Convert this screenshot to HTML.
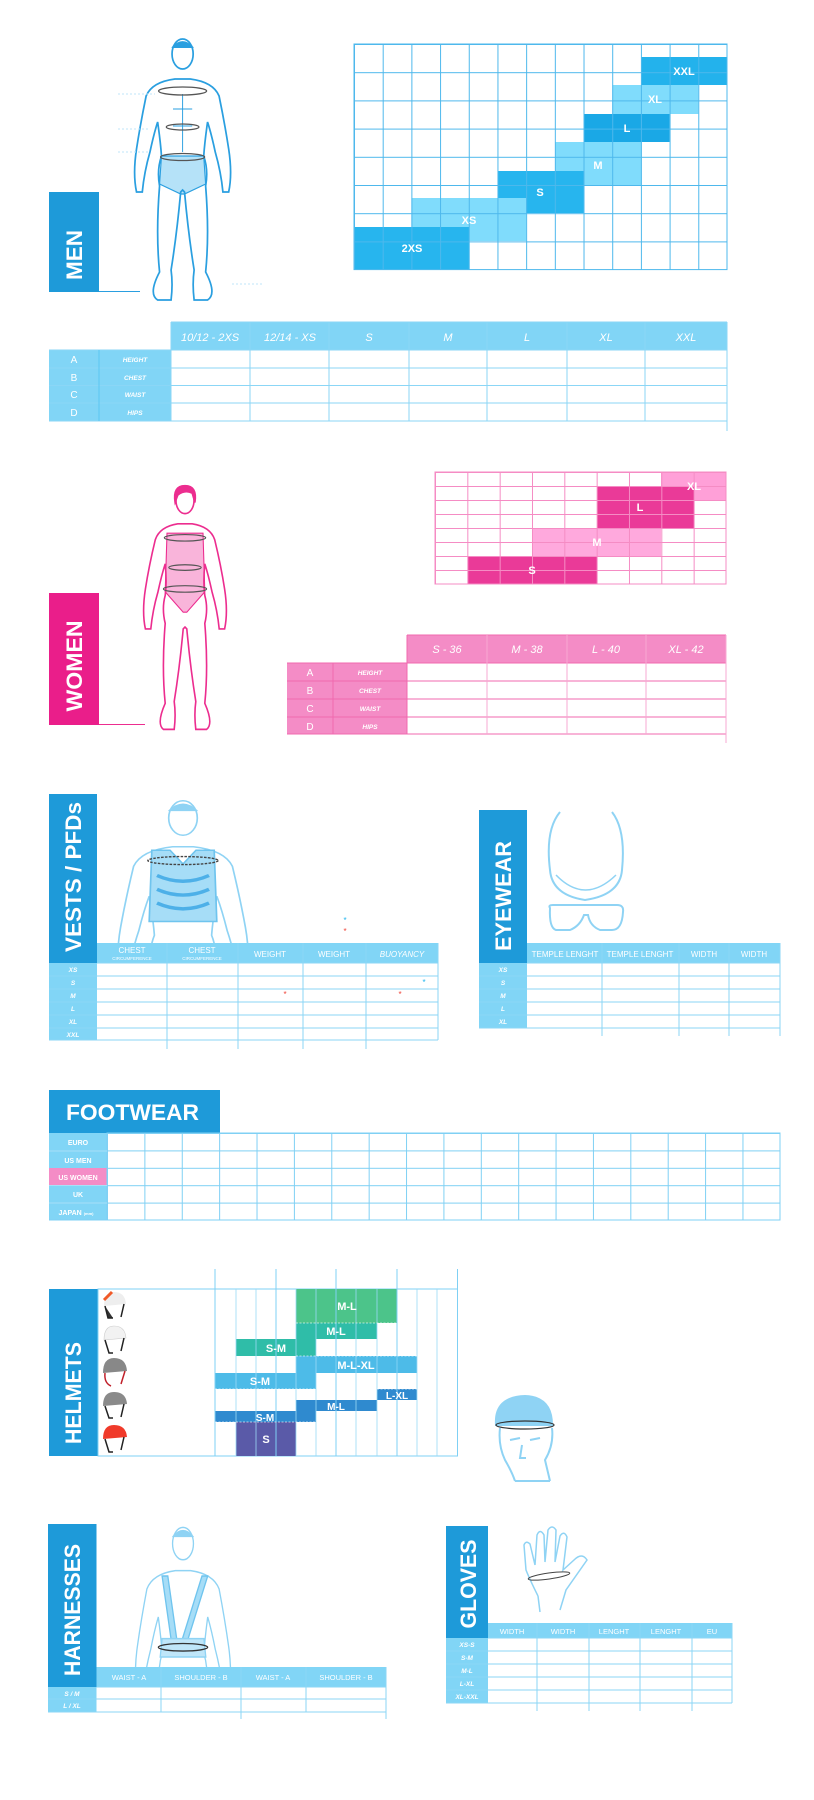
<!DOCTYPE html>
<html><head><meta charset="utf-8"><style>
html,body{margin:0;padding:0;background:#fff;}
svg{display:block;}
text{font-family:"Liberation Sans",sans-serif;}
.t{fill:#fff;font-weight:bold;}
.h{fill:#fff;font-style:italic;font-size:11px;}
.rl{fill:#fff;font-size:10px;}
.ri{fill:#fff;font-style:italic;font-weight:bold;font-size:6.5px;}
.sm{fill:#fff;font-size:8px;}
.bl{fill:#fff;font-weight:bold;font-size:11px;}
</style></head><body>
<svg width="814" height="1800" viewBox="0 0 814 1800" xmlns="http://www.w3.org/2000/svg">
<defs>
<pattern id="mg" x="354" y="44" width="28.69" height="28.2" patternUnits="userSpaceOnUse"><path d="M0 0H28.69M0 0V28.2" stroke="#4db8ec" stroke-width="2" fill="none"/></pattern>
<pattern id="wg" x="435" y="472" width="32.33" height="14" patternUnits="userSpaceOnUse"><path d="M0 0H32.33M0 0V14" stroke="#f58cc4" stroke-width="2" fill="none"/></pattern>
<pattern id="fg" x="107" y="1133" width="37.38" height="17.4" patternUnits="userSpaceOnUse"><path d="M0 0H37.38M0 0V17.4" stroke="#7fd0f4" stroke-width="2" fill="none"/></pattern>
<path id="body" d="M52 45 Q28 48 22 62 Q16 90 12 115 Q8 140 12 158 L18 158 Q20 138 26 118 Q30 100 34 88 Q37 108 38 122 Q33 136 36 152 Q32 200 36 238 Q24 260 34 266 L48 266 Q50 250 48 236 Q54 200 58 158 L60 156 L62 158 Q66 200 72 236 Q70 250 72 266 L86 266 Q96 260 84 238 Q88 200 84 152 Q87 136 82 122 Q83 108 86 88 Q90 100 94 118 Q100 138 102 158 L108 158 Q112 140 108 115 Q104 90 98 62 Q92 48 68 45 Z"/>
<clipPath id="cv"><rect x="0" y="780" width="400" height="163"/></clipPath>
<clipPath id="ch"><rect x="0" y="1515" width="400" height="152"/></clipPath>
</defs>

<!-- ===== MEN ===== -->
<rect x="49" y="192" width="50" height="100" fill="#1e9ad9"/>
<text class="t" font-size="22" transform="translate(82,255) rotate(-90)" text-anchor="middle" textLength="50" lengthAdjust="spacingAndGlyphs">MEN</text>
<line x1="99" y1="291.5" x2="140" y2="291.5" stroke="#2a9fe0" stroke-width="1"/>
<g transform="translate(125,34) scale(0.96,1)" stroke="#2a9fe0" stroke-width="1.8" fill="none">
<path d="M38 122 L82 122 L84 150 L62 160 L58 160 L36 150 Z" fill="#b5e2f8" stroke-width="1.2"/>
<use href="#body"/>
<ellipse cx="60" cy="20" rx="11" ry="15" fill="#fff"/>
<path d="M49 14 Q60 2 71 14" fill="#2a9fe0"/>
<path d="M60 60 V118 M50 75 H70 M50 92 H70" stroke-width="1"/>
<ellipse cx="60" cy="57" rx="25" ry="4" stroke="#555" stroke-width="1.3"/>
<ellipse cx="60" cy="93" rx="17" ry="3" stroke="#555" stroke-width="1.3"/>
<ellipse cx="60" cy="123" rx="23" ry="3.5" stroke="#555" stroke-width="1.3"/>
</g>
<g stroke="#bfe6f9" stroke-dasharray="2 2" stroke-width="1"><line x1="118" y1="94" x2="155" y2="94"/><line x1="118" y1="129" x2="150" y2="129"/><line x1="118" y1="152" x2="150" y2="152"/><line x1="232" y1="284" x2="262" y2="284"/></g>

<!-- men size grid -->
<rect x="641" y="57" width="86" height="28" fill="#23b2ec"/>
<rect x="612.3" y="85" width="86" height="29" fill="#80dcfc"/>
<rect x="583.6" y="114" width="86" height="28" fill="#1aa8e6"/>
<rect x="555" y="142" width="86" height="43" fill="#80dcfc"/>
<rect x="497.5" y="171" width="86" height="42" fill="#27b5ee"/>
<rect x="411.4" y="198" width="114.8" height="43" fill="#80dcfc"/>
<rect x="354" y="227" width="115" height="42.6" fill="#27b5ee"/>
<rect x="354" y="44" width="373" height="225.6" fill="url(#mg)" stroke="#4db8ec" stroke-width="1"/>
<text class="bl" x="684" y="75" text-anchor="middle">XXL</text>
<text class="bl" x="655" y="103" text-anchor="middle">XL</text>
<text class="bl" x="627" y="132" text-anchor="middle">L</text>
<text class="bl" x="598" y="169" text-anchor="middle">M</text>
<text class="bl" x="540" y="196" text-anchor="middle">S</text>
<text class="bl" x="469" y="224" text-anchor="middle">XS</text>
<text class="bl" x="412" y="252" text-anchor="middle">2XS</text>

<!-- men table -->
<rect x="171" y="322" width="556" height="28" fill="#81d5f6"/>
<rect x="49" y="350" width="122" height="71" fill="#81d5f6"/>
<g stroke="#8bd6f6" stroke-width="1">
<line x1="49" y1="350" x2="727" y2="350"/><line x1="49" y1="368" x2="727" y2="368"/><line x1="49" y1="385.5" x2="727" y2="385.5"/><line x1="49" y1="403" x2="727" y2="403"/><line x1="49" y1="421" x2="727" y2="421"/>
<line x1="171" y1="322" x2="727" y2="322"/>
<line x1="99" y1="350" x2="99" y2="421" stroke="#5cc6f2"/>
<line x1="171" y1="322" x2="171" y2="421"/><line x1="250" y1="322" x2="250" y2="421"/><line x1="329" y1="322" x2="329" y2="421"/><line x1="409" y1="322" x2="409" y2="421"/><line x1="487" y1="322" x2="487" y2="421"/><line x1="567" y1="322" x2="567" y2="421"/><line x1="645" y1="322" x2="645" y2="421"/><line x1="727" y1="322" x2="727" y2="431"/>
</g>
<text class="h" x="210" y="341" text-anchor="middle">10/12 - 2XS</text>
<text class="h" x="290" y="341" text-anchor="middle">12/14 - XS</text>
<text class="h" x="369" y="341" text-anchor="middle">S</text>
<text class="h" x="448" y="341" text-anchor="middle">M</text>
<text class="h" x="527" y="341" text-anchor="middle">L</text>
<text class="h" x="606" y="341" text-anchor="middle">XL</text>
<text class="h" x="686" y="341" text-anchor="middle">XXL</text>
<text class="rl" x="74" y="363" text-anchor="middle">A</text><text class="ri" x="135" y="362" text-anchor="middle">HEIGHT</text>
<text class="rl" x="74" y="381" text-anchor="middle">B</text><text class="ri" x="135" y="380" text-anchor="middle">CHEST</text>
<text class="rl" x="74" y="398" text-anchor="middle">C</text><text class="ri" x="135" y="397" text-anchor="middle">WAIST</text>
<text class="rl" x="74" y="416" text-anchor="middle">D</text><text class="ri" x="135" y="415" text-anchor="middle">HIPS</text>

<!-- ===== WOMEN ===== -->
<rect x="49" y="593" width="50" height="132" fill="#ea1e8a"/>
<text class="t" font-size="22" transform="translate(82,666) rotate(-90)" text-anchor="middle" textLength="91" lengthAdjust="spacingAndGlyphs">WOMEN</text>
<line x1="99" y1="724.5" x2="145" y2="724.5" stroke="#ec2d8f" stroke-width="1"/>
<g transform="translate(131,482) scale(0.9,0.93)" stroke="#ec2d8f" stroke-width="1.8" fill="none">
<path d="M40 55 L80 55 L82 118 L62 140 L58 140 L38 118 Z" fill="#f9b4da" stroke-width="1.2"/>
<path d="M52 45 Q32 48 27 62 Q20 90 16 115 Q12 140 16 158 L22 158 Q24 138 30 118 Q34 100 38 88 Q40 108 38 122 Q34 136 38 152 Q34 200 38 238 Q28 260 36 266 L48 266 Q50 250 48 236 Q54 200 58 158 L60 156 L62 158 Q66 200 72 236 Q70 250 72 266 L84 266 Q92 260 82 238 Q86 200 82 152 Q86 136 82 122 Q80 108 82 88 Q86 100 90 118 Q96 138 98 158 L104 158 Q108 140 104 115 Q100 90 93 62 Q88 48 68 45 Z"/>
<ellipse cx="60" cy="20" rx="10" ry="14" fill="#fff"/>
<path d="M49 22 Q46 4 60 4 Q74 4 71 22 L68 12 Q60 8 52 14 Z" fill="#ec2d8f"/>
<ellipse cx="60" cy="60" rx="23" ry="3.5" stroke="#555" stroke-width="1.3"/>
<ellipse cx="60" cy="92" rx="18" ry="3" stroke="#555" stroke-width="1.3"/>
<ellipse cx="60" cy="115" rx="24" ry="3.5" stroke="#555" stroke-width="1.3"/>
</g>

<!-- women grid -->
<rect x="661" y="472" width="65" height="28" fill="#ffa0d8"/>
<rect x="597" y="486" width="97" height="42" fill="#ea3a98"/>
<rect x="532" y="528" width="129" height="28" fill="#ffa9dd"/>
<rect x="468" y="556" width="129" height="28" fill="#ea3a98"/>
<rect x="435" y="472" width="291" height="112" fill="url(#wg)" stroke="#f58cc4" stroke-width="1"/>
<text class="bl" x="694" y="490" text-anchor="middle">XL</text>
<text class="bl" x="640" y="511" text-anchor="middle">L</text>
<text class="bl" x="597" y="546" text-anchor="middle">M</text>
<text class="bl" x="532" y="574" text-anchor="middle">S</text>

<!-- women table -->
<rect x="407" y="635" width="319" height="28" fill="#f48cc6"/>
<rect x="287" y="663" width="120" height="71" fill="#f48cc6"/>
<g stroke="#f06aaf" stroke-width="1">
<line x1="407" y1="635" x2="726" y2="635"/>
<line x1="287" y1="663" x2="726" y2="663"/><line x1="287" y1="681" x2="726" y2="681"/><line x1="287" y1="699" x2="726" y2="699"/><line x1="287" y1="717" x2="726" y2="717"/><line x1="287" y1="734" x2="726" y2="734"/>
<line x1="333" y1="663" x2="333" y2="734"/>
<line x1="407" y1="635" x2="407" y2="734"/><line x1="487" y1="635" x2="487" y2="734" stroke="#f7a8d3"/><line x1="567" y1="635" x2="567" y2="734" stroke="#f7a8d3"/><line x1="646" y1="635" x2="646" y2="734" stroke="#f7a8d3"/><line x1="726" y1="635" x2="726" y2="743" stroke="#f7a8d3"/>
</g>
<text class="h" x="447" y="653" text-anchor="middle">S - 36</text>
<text class="h" x="527" y="653" text-anchor="middle">M - 38</text>
<text class="h" x="606" y="653" text-anchor="middle">L - 40</text>
<text class="h" x="686" y="653" text-anchor="middle">XL - 42</text>
<text class="rl" x="310" y="676" text-anchor="middle">A</text><text class="ri" x="370" y="675" text-anchor="middle">HEIGHT</text>
<text class="rl" x="310" y="694" text-anchor="middle">B</text><text class="ri" x="370" y="693" text-anchor="middle">CHEST</text>
<text class="rl" x="310" y="712" text-anchor="middle">C</text><text class="ri" x="370" y="711" text-anchor="middle">WAIST</text>
<text class="rl" x="310" y="730" text-anchor="middle">D</text><text class="ri" x="370" y="729" text-anchor="middle">HIPS</text>

<!-- ===== VESTS ===== -->
<rect x="49" y="794" width="48" height="169" fill="#1e9ad9"/>
<text class="t" font-size="22" transform="translate(81,877) rotate(-90)" text-anchor="middle" textLength="150" lengthAdjust="spacingAndGlyphs">VESTS / PFDs</text>
<g clip-path="url(#cv)">
<g transform="translate(105,795) scale(1.3,1.15)" stroke="#8fd3f4" stroke-width="1.3" fill="none">
<use href="#body"/>
<path d="M36 48 L50 48 L60 60 L70 48 L84 48 L86 110 L34 110 Z" fill="#a6ddf7" stroke="#6fc4ee"/>
<path d="M40 70 Q60 80 80 70 M40 82 Q60 92 80 82 M40 94 Q60 104 80 94" stroke="#4db0e8" stroke-width="3"/>
<ellipse cx="60" cy="20" rx="11" ry="15" fill="#fff"/>
<path d="M49 14 Q60 2 71 14" fill="#8fd3f4"/>
<ellipse cx="60" cy="57" rx="27" ry="3.5" stroke="#444" stroke-width="1.2" stroke-dasharray="2 1"/>
</g></g>
<text x="345" y="923" fill="#22b6ee" font-size="8" text-anchor="middle">*</text>
<text x="345" y="934" fill="#f0453a" font-size="8" text-anchor="middle">*</text>
<rect x="97" y="943" width="341" height="20" fill="#81d5f6"/>
<rect x="49" y="963" width="48" height="77" fill="#81d5f6"/>
<g stroke="#8bd6f6" stroke-width="1">
<line x1="49" y1="976" x2="438" y2="976"/><line x1="49" y1="989" x2="438" y2="989"/><line x1="49" y1="1002" x2="438" y2="1002"/><line x1="49" y1="1015" x2="438" y2="1015"/><line x1="49" y1="1028" x2="438" y2="1028"/><line x1="49" y1="1040" x2="438" y2="1040"/>
<line x1="97" y1="963" x2="438" y2="963"/>
<line x1="167" y1="943" x2="167" y2="1049"/><line x1="238" y1="943" x2="238" y2="1049"/><line x1="303" y1="943" x2="303" y2="1049"/><line x1="366" y1="943" x2="366" y2="1049"/><line x1="438" y1="943" x2="438" y2="1040"/>
</g>
<text class="sm" x="132" y="953" text-anchor="middle" font-size="9">CHEST</text><text x="132" y="960" fill="#fff" font-size="4.5" text-anchor="middle">CIRCUMFERENCE</text>
<text class="sm" x="202" y="953" text-anchor="middle" font-size="9">CHEST</text><text x="202" y="960" fill="#fff" font-size="4.5" text-anchor="middle">CIRCUMFERENCE</text>
<text class="sm" x="270" y="957" text-anchor="middle" font-size="9">WEIGHT</text>
<text class="sm" x="334" y="957" text-anchor="middle" font-size="9">WEIGHT</text>
<text class="sm" x="402" y="957" text-anchor="middle" font-size="9" font-style="italic">BUOYANCY</text>
<text class="ri" x="73" y="972" text-anchor="middle">XS</text>
<text class="ri" x="73" y="985" text-anchor="middle">S</text>
<text class="ri" x="73" y="998" text-anchor="middle">M</text>
<text class="ri" x="73" y="1011" text-anchor="middle">L</text>
<text class="ri" x="73" y="1024" text-anchor="middle">XL</text>
<text class="ri" x="73" y="1037" text-anchor="middle">XXL</text>
<text x="424" y="985" fill="#22b6ee" font-size="8" text-anchor="middle">*</text>
<text x="285" y="997" fill="#f0453a" font-size="8" text-anchor="middle">*</text>
<text x="400" y="997" fill="#f0453a" font-size="8" text-anchor="middle">*</text>

<!-- ===== EYEWEAR ===== -->
<rect x="479" y="810" width="48" height="153" fill="#1e9ad9"/>
<text class="t" font-size="22" transform="translate(511,896) rotate(-90)" text-anchor="middle" textLength="110" lengthAdjust="spacingAndGlyphs">EYEWEAR</text>
<g stroke="#8fd3f4" stroke-width="2" fill="none">
<path d="M560 812 Q545 830 550 870 Q552 895 585 900 Q620 895 622 870 Q626 830 612 812"/>
<path d="M556 875 Q585 905 616 875" stroke-width="1.5"/>
<path d="M550 908 Q548 905 553 905 L617 905 Q624 905 623 912 Q622 930 612 930 L600 930 Q590 926 588 915 L584 915 Q580 926 570 930 L556 930 Q549 928 550 908 Z"/>
</g>
<rect x="527" y="943" width="253" height="20" fill="#81d5f6"/>
<rect x="479" y="963" width="48" height="65" fill="#81d5f6"/>
<g stroke="#8bd6f6" stroke-width="1">
<line x1="479" y1="976" x2="780" y2="976"/><line x1="479" y1="989" x2="780" y2="989"/><line x1="479" y1="1002" x2="780" y2="1002"/><line x1="479" y1="1015" x2="780" y2="1015"/><line x1="479" y1="1028" x2="780" y2="1028"/>
<line x1="527" y1="963" x2="780" y2="963"/>
<line x1="602" y1="943" x2="602" y2="1036"/><line x1="679" y1="943" x2="679" y2="1036"/><line x1="729" y1="943" x2="729" y2="1036"/><line x1="780" y1="943" x2="780" y2="1036"/>
</g>
<text class="sm" x="565" y="957" text-anchor="middle" font-size="7.5">TEMPLE LENGHT</text>
<text class="sm" x="640" y="957" text-anchor="middle" font-size="7.5">TEMPLE LENGHT</text>
<text class="sm" x="704" y="957" text-anchor="middle" font-size="8">WIDTH</text>
<text class="sm" x="754" y="957" text-anchor="middle" font-size="8">WIDTH</text>
<text class="ri" x="503" y="972" text-anchor="middle">XS</text>
<text class="ri" x="503" y="985" text-anchor="middle">S</text>
<text class="ri" x="503" y="998" text-anchor="middle">M</text>
<text class="ri" x="503" y="1011" text-anchor="middle">L</text>
<text class="ri" x="503" y="1024" text-anchor="middle">XL</text>

<!-- ===== FOOTWEAR ===== -->
<rect x="49" y="1090" width="171" height="43" fill="#1e9ad9"/>
<text class="t" x="66" y="1120" font-size="22" textLength="133" lengthAdjust="spacingAndGlyphs">FOOTWEAR</text>
<rect x="49" y="1133" width="58" height="87" fill="#81d5f6"/>
<rect x="49" y="1168" width="58" height="17.5" fill="#f48cc6"/>
<rect x="107" y="1133" width="673" height="87" fill="url(#fg)" stroke="#7fd0f4" stroke-width="1"/>
<line x1="49" y1="1220" x2="107" y2="1220" stroke="#7fd0f4"/>
<g stroke="#a8e0f8" stroke-width="1"><line x1="49" y1="1151" x2="107" y2="1151"/><line x1="49" y1="1185.5" x2="107" y2="1185.5"/><line x1="49" y1="1203" x2="107" y2="1203"/></g>
<g font-size="7" font-weight="bold" fill="#fff" text-anchor="middle">
<text x="78" y="1145">EURO</text><text x="78" y="1163">US MEN</text><text x="78" y="1180">US WOMEN</text><text x="78" y="1197">UK</text><text x="76" y="1215">JAPAN <tspan font-size="4">(mm)</tspan></text>
</g>

<!-- ===== HELMETS ===== -->
<rect x="49" y="1289" width="49" height="167" fill="#1e9ad9"/>
<text class="t" font-size="22" transform="translate(81,1393) rotate(-90)" text-anchor="middle" textLength="102" lengthAdjust="spacingAndGlyphs">HELMETS</text>
<rect x="98" y="1289" width="359.5" height="167" fill="none" stroke="#7fd0f4" stroke-width="1"/>
<rect x="296" y="1289" width="101" height="34" fill="#4cc48a"/>
<rect x="296" y="1323" width="81" height="16" fill="#2fbda8"/>
<rect x="236" y="1339" width="80" height="17" fill="#2fbda8"/>
<rect x="296" y="1356" width="121" height="17" fill="#4dbbe8"/>
<rect x="215" y="1373" width="101" height="16" fill="#4dbbe8"/>
<rect x="377" y="1389" width="40" height="11" fill="#2f8acf"/>
<rect x="296" y="1400" width="81" height="11" fill="#2f8acf"/>
<rect x="215" y="1411" width="101" height="11" fill="#2f8acf"/>
<rect x="236" y="1422" width="60" height="34" fill="#5a5aa8"/>
<g stroke="#9ad9f6" stroke-width="1" opacity="0.8">
<line x1="236" y1="1289" x2="236" y2="1456"/><line x1="256" y1="1289" x2="256" y2="1456"/><line x1="296" y1="1289" x2="296" y2="1456"/><line x1="316" y1="1289" x2="316" y2="1456"/><line x1="356" y1="1289" x2="356" y2="1456"/><line x1="377" y1="1289" x2="377" y2="1456"/><line x1="417" y1="1289" x2="417" y2="1456"/><line x1="437" y1="1289" x2="437" y2="1456"/>
</g>
<g stroke="#7fd0f4" stroke-width="1">
<line x1="215" y1="1269" x2="215" y2="1456"/><line x1="276" y1="1269" x2="276" y2="1456"/><line x1="336" y1="1269" x2="336" y2="1456"/><line x1="397" y1="1269" x2="397" y2="1456"/><line x1="457.5" y1="1269" x2="457.5" y2="1456"/>
</g>
<g stroke="#fff" stroke-dasharray="2 1.5" stroke-width="0.8" opacity="0.8">
<line x1="296" y1="1323" x2="397" y2="1323"/><line x1="296" y1="1356" x2="417" y2="1356"/><line x1="215" y1="1389" x2="316" y2="1389"/><line x1="377" y1="1389" x2="417" y2="1389"/><line x1="215" y1="1422" x2="316" y2="1422"/>
</g>
<g font-size="11" font-weight="bold" fill="#fff" text-anchor="middle">
<text x="347" y="1310">M-L</text><text x="336" y="1335">M-L</text><text x="276" y="1352">S-M</text><text x="356" y="1369">M-L-XL</text><text x="260" y="1385">S-M</text>
<text x="397" y="1399" font-size="10">L-XL</text><text x="336" y="1410" font-size="10">M-L</text><text x="265" y="1421" font-size="10">S-M</text><text x="266" y="1443">S</text>
</g>
<!-- helmet icons -->
<g stroke="#222" stroke-width="1.5" fill="none">
<path d="M104 1306 Q104 1292 114 1292 Q125 1292 126 1304 L104 1306 Z" fill="#eee" stroke="none"/><path d="M104 1300 L112 1292" stroke="#f05a28" stroke-width="3"/><path d="M105 1306 L108 1318 L113 1318 M124 1304 L121 1317" fill="#333"/>
<path d="M104 1340 Q104 1326 114 1326 Q125 1326 126 1338 L104 1340 Z" fill="#f2f2f2" stroke="#ccc" stroke-width="0.6"/><path d="M105 1340 L109 1353 L113 1353 M124 1338 L121 1351"/>
<path d="M103 1373 Q103 1358 114 1358 Q126 1358 127 1371 L103 1373 Z" fill="#888" stroke="none"/><path d="M105 1373 Q104 1383 111 1386 M125 1371 L121 1384" stroke="#c0202a"/>
<path d="M103 1406 Q103 1392 114 1392 Q126 1392 127 1404 L103 1406 Z" fill="#8a8a8a" stroke="none"/><path d="M105 1406 L109 1418 L113 1418 M124 1404 L121 1417"/>
<path d="M103 1439 Q103 1425 114 1425 Q126 1425 127 1437 L103 1439 Z" fill="#f03a2a" stroke="none"/><path d="M105 1439 L109 1452 L113 1452 M124 1437 L121 1450"/>
</g>
<!-- head -->
<g stroke="#8fd3f4" stroke-width="2" fill="none">
<path d="M496 1425 Q494 1397 525 1396 Q552 1397 552 1425 Z" fill="#8fd3f4"/>
<path d="M500 1428 Q498 1445 505 1460 Q512 1472 515 1481 M552 1428 Q554 1445 545 1460 L550 1481 M515 1481 L550 1481"/>
<path d="M510 1440 L520 1438 M530 1440 L540 1438 M522 1445 L520 1458 L526 1458"/>
<ellipse cx="525" cy="1425" rx="29" ry="4" stroke="#333" stroke-width="1.2"/>
</g>

<!-- ===== HARNESSES ===== -->
<rect x="48" y="1524" width="48.5" height="163" fill="#1e9ad9"/>
<text class="t" font-size="22" transform="translate(80,1610) rotate(-90)" text-anchor="middle" textLength="132" lengthAdjust="spacingAndGlyphs">HARNESSES</text>
<g clip-path="url(#ch)">
<g transform="translate(126,1522) scale(0.95,1.08)" stroke="#8fd3f4" stroke-width="1.4" fill="none">
<use href="#body"/>
<ellipse cx="60" cy="20" rx="11" ry="15" fill="#fff"/>
<path d="M49 14 Q60 2 71 14" fill="#8fd3f4"/>
<path d="M38 50 L48 112 L54 112 L44 50 Z M80 50 L58 112 L64 112 L86 50 Z" fill="#a6ddf7" stroke="#6fc4ee"/>
<path d="M38 108 L82 108 L84 125 L36 125 Z" fill="#bfe6f9"/>
<ellipse cx="60" cy="116" rx="26" ry="3.5" stroke="#333" stroke-width="1.2"/>
</g></g>
<rect x="96.5" y="1667" width="289.5" height="20" fill="#81d5f6"/>
<rect x="48" y="1687" width="48.5" height="25" fill="#81d5f6"/>
<g stroke="#8bd6f6" stroke-width="1">
<line x1="48" y1="1699" x2="386" y2="1699"/><line x1="48" y1="1712" x2="386" y2="1712"/><line x1="96.5" y1="1687" x2="386" y2="1687"/>
<line x1="161" y1="1667" x2="161" y2="1712"/><line x1="241" y1="1667" x2="241" y2="1719"/><line x1="306" y1="1667" x2="306" y2="1712"/><line x1="386" y1="1667" x2="386" y2="1719"/>
</g>
<g font-size="7.5" fill="#fff" text-anchor="middle">
<text x="129" y="1680">WAIST - A</text><text x="201" y="1680">SHOULDER - B</text><text x="273" y="1680">WAIST - A</text><text x="346" y="1680">SHOULDER - B</text>
</g>
<text class="ri" x="72" y="1696" text-anchor="middle">S / M</text>
<text class="ri" x="72" y="1708" text-anchor="middle">L / XL</text>

<!-- ===== GLOVES ===== -->
<rect x="446" y="1526" width="42" height="112" fill="#1e9ad9"/>
<text class="t" font-size="22" transform="translate(476,1584) rotate(-90)" text-anchor="middle" textLength="89" lengthAdjust="spacingAndGlyphs">GLOVES</text>
<g stroke="#8fd3f4" stroke-width="1.5" fill="none">
<path d="M538 1596 Q530 1580 526 1570 L524 1545 Q526 1540 530 1544 L535 1565 L537 1535 Q540 1528 544 1535 L545 1562 L548 1530 Q552 1524 556 1530 L555 1562 L560 1536 Q564 1530 567 1537 L563 1570 L574 1560 Q582 1552 587 1560 L566 1590 L560 1610 M538 1596 L540 1612"/>
<ellipse cx="549" cy="1576" rx="21" ry="3" stroke="#444" stroke-width="1" transform="rotate(-8 549 1576)"/>
</g>
<rect x="488" y="1623" width="244" height="15" fill="#81d5f6"/>
<rect x="446" y="1638" width="42" height="65" fill="#81d5f6"/>
<g stroke="#8bd6f6" stroke-width="1">
<line x1="446" y1="1651" x2="732" y2="1651"/><line x1="446" y1="1664" x2="732" y2="1664"/><line x1="446" y1="1677" x2="732" y2="1677"/><line x1="446" y1="1690" x2="732" y2="1690"/><line x1="446" y1="1703" x2="732" y2="1703"/><line x1="488" y1="1638" x2="732" y2="1638"/>
<line x1="537" y1="1623" x2="537" y2="1711"/><line x1="589" y1="1623" x2="589" y2="1711"/><line x1="640" y1="1623" x2="640" y2="1711"/><line x1="692" y1="1623" x2="692" y2="1711"/><line x1="732" y1="1623" x2="732" y2="1703"/>
</g>
<g font-size="7.5" fill="#fff" text-anchor="middle">
<text x="512" y="1634">WIDTH</text><text x="563" y="1634">WIDTH</text><text x="614" y="1634">LENGHT</text><text x="666" y="1634">LENGHT</text><text x="712" y="1634">EU</text>
</g>
<text class="ri" x="467" y="1647" text-anchor="middle">XS-S</text>
<text class="ri" x="467" y="1660" text-anchor="middle">S-M</text>
<text class="ri" x="467" y="1673" text-anchor="middle">M-L</text>
<text class="ri" x="467" y="1686" text-anchor="middle">L-XL</text>
<text class="ri" x="467" y="1699" text-anchor="middle">XL-XXL</text>
</svg>
</body></html>
